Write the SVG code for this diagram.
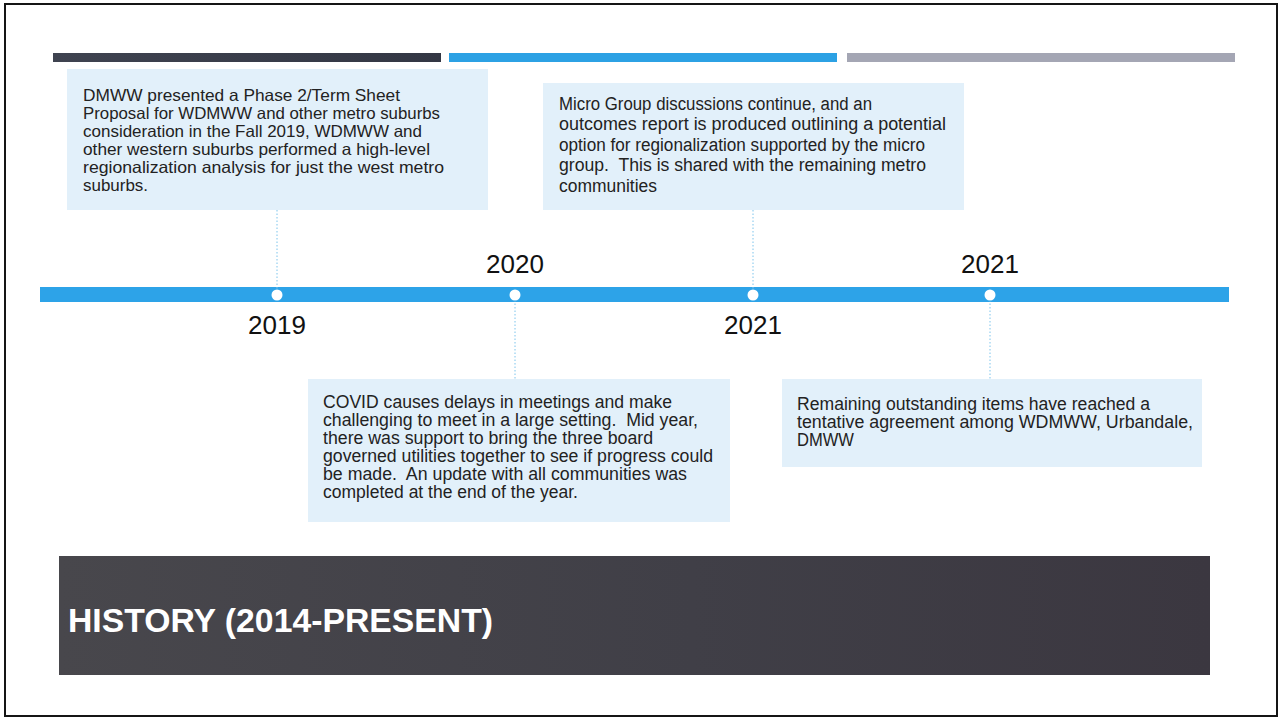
<svg xmlns="http://www.w3.org/2000/svg" width="1279" height="719" viewBox="0 0 1279 719">
  <defs>
    <linearGradient id="bannerFill" x1="0" y1="0" x2="1" y2="0">
      <stop offset="0" stop-color="#48474c"/>
      <stop offset="0.55" stop-color="#403f47"/>
      <stop offset="1" stop-color="#3b3740"/>
    </linearGradient>
    <linearGradient id="darkBarFill" x1="0" y1="0" x2="1" y2="0">
      <stop offset="0" stop-color="#3f4350"/>
      <stop offset="1" stop-color="#333744"/>
    </linearGradient>
  </defs>
  <style>
    .frame { fill: #ffffff; stroke: #151515; stroke-width: 2; }
    .card { fill: #e2f0fa; }
    .body { font-family: "Liberation Sans", Arial, sans-serif; font-size: 16.5px; fill: #222222; white-space: pre; }
    .wide { font-size: 17.5px; }
    .tall { font-size: 18px; }
    .year { font-family: "Liberation Sans", Arial, sans-serif; font-size: 26px; fill: #111111; text-anchor: middle; }
    .title { font-family: "Liberation Sans", Arial, sans-serif; font-size: 33px; font-weight: bold; fill: #ffffff; }
    .tick { stroke: #7cc4ec; stroke-width: 1; stroke-dasharray: 1.5 2; fill: none; }
    .dot { fill: #ffffff; }
  </style>

  <!-- page frame -->
  <rect class="frame" x="5" y="4" width="1272" height="712"/>

  <!-- period bars along the top -->
  <g id="period-bars">
    <rect x="53" y="53" width="388" height="9" fill="url(#darkBarFill)"/>
    <rect x="449" y="53" width="388" height="9" fill="#2ca1e4"/>
    <rect x="847" y="53" width="388" height="9" fill="#a4a6b4"/>
  </g>

  <!-- main timeline -->
  <g id="timeline">
    <rect x="40" y="287" width="1189" height="15" fill="#2da3e8"/>
    <circle class="dot" cx="277" cy="295" r="5.5"/>
    <circle class="dot" cx="515" cy="295" r="5.5"/>
    <circle class="dot" cx="753" cy="295" r="5.5"/>
    <circle class="dot" cx="990" cy="295" r="5.5"/>
  </g>

  <!-- year labels -->
  <g id="years">
    <text class="year" x="277" y="334">2019</text>
    <text class="year" x="515" y="273">2020</text>
    <text class="year" x="753" y="334">2021</text>
    <text class="year" x="990" y="273">2021</text>
  </g>

  <!-- dotted leaders from the timeline to each card -->
  <g id="connectors">
    <line class="tick" x1="277" y1="210" x2="277" y2="289"/>
    <line class="tick" x1="515" y1="300" x2="515" y2="379"/>
    <line class="tick" x1="753" y1="210" x2="753" y2="289"/>
    <line class="tick" x1="990" y1="300" x2="990" y2="379"/>
  </g>

  <!-- 2019 card -->
  <g id="card-2019">
    <rect class="card" x="67" y="69" width="421" height="141"/>
    <text class="body" x="83" y="101" textLength="317" lengthAdjust="spacingAndGlyphs">DMWW presented a Phase 2/Term Sheet</text>
    <text class="body" x="83" y="119" textLength="357" lengthAdjust="spacingAndGlyphs">Proposal for WDMWW and other metro suburbs</text>
    <text class="body" x="83" y="137" textLength="339" lengthAdjust="spacingAndGlyphs">consideration in the Fall 2019, WDMWW and</text>
    <text class="body" x="83" y="155" textLength="347" lengthAdjust="spacingAndGlyphs">other western suburbs performed a high-level</text>
    <text class="body" x="83" y="173" textLength="361" lengthAdjust="spacingAndGlyphs">regionalization analysis for just the west metro</text>
    <text class="body" x="83" y="191" textLength="65" lengthAdjust="spacingAndGlyphs">suburbs.</text>
  </g>

  <!-- 2020 card -->
  <g id="card-2020">
    <rect class="card" x="308" y="379" width="422" height="143"/>
    <text class="body wide" x="323" y="408" textLength="349" lengthAdjust="spacingAndGlyphs">COVID causes delays in meetings and make</text>
    <text class="body wide" x="323" y="426" textLength="375" lengthAdjust="spacingAndGlyphs">challenging to meet in a large setting.  Mid year,</text>
    <text class="body wide" x="323" y="444" textLength="330" lengthAdjust="spacingAndGlyphs">there was support to bring the three board</text>
    <text class="body wide" x="323" y="462" textLength="390" lengthAdjust="spacingAndGlyphs">governed utilities together to see if progress could</text>
    <text class="body wide" x="323" y="480" textLength="364" lengthAdjust="spacingAndGlyphs">be made.  An update with all communities was</text>
    <text class="body wide" x="323" y="498" textLength="255" lengthAdjust="spacingAndGlyphs">completed at the end of the year.</text>
  </g>

  <!-- first 2021 card -->
  <g id="card-2021-a">
    <rect class="card" x="543" y="83" width="421" height="127"/>
    <text class="body tall" x="559" y="109.5" textLength="313" lengthAdjust="spacingAndGlyphs">Micro Group discussions continue, and an</text>
    <text class="body tall" x="559" y="130" textLength="387" lengthAdjust="spacingAndGlyphs">outcomes report is produced outlining a potential</text>
    <text class="body tall" x="559" y="150.5" textLength="366" lengthAdjust="spacingAndGlyphs">option for regionalization supported by the micro</text>
    <text class="body tall" x="559" y="171" textLength="367" lengthAdjust="spacingAndGlyphs">group.  This is shared with the remaining metro</text>
    <text class="body tall" x="559" y="191.5" textLength="98" lengthAdjust="spacingAndGlyphs">communities</text>
  </g>

  <!-- second 2021 card -->
  <g id="card-2021-b">
    <rect class="card" x="782" y="379" width="420" height="88"/>
    <text class="body wide" x="797" y="410" textLength="353" lengthAdjust="spacingAndGlyphs">Remaining outstanding items have reached a</text>
    <text class="body wide" x="797" y="428" textLength="396" lengthAdjust="spacingAndGlyphs">tentative agreement among WDMWW, Urbandale,</text>
    <text class="body wide" x="797" y="446" textLength="57" lengthAdjust="spacingAndGlyphs">DMWW</text>
  </g>

  <!-- title banner -->
  <g id="title-banner">
    <rect x="59" y="556" width="1151" height="119" fill="url(#bannerFill)"/>
    <text class="title" x="68" y="632" textLength="425" lengthAdjust="spacingAndGlyphs">HISTORY (2014-PRESENT)</text>
  </g>
</svg>
